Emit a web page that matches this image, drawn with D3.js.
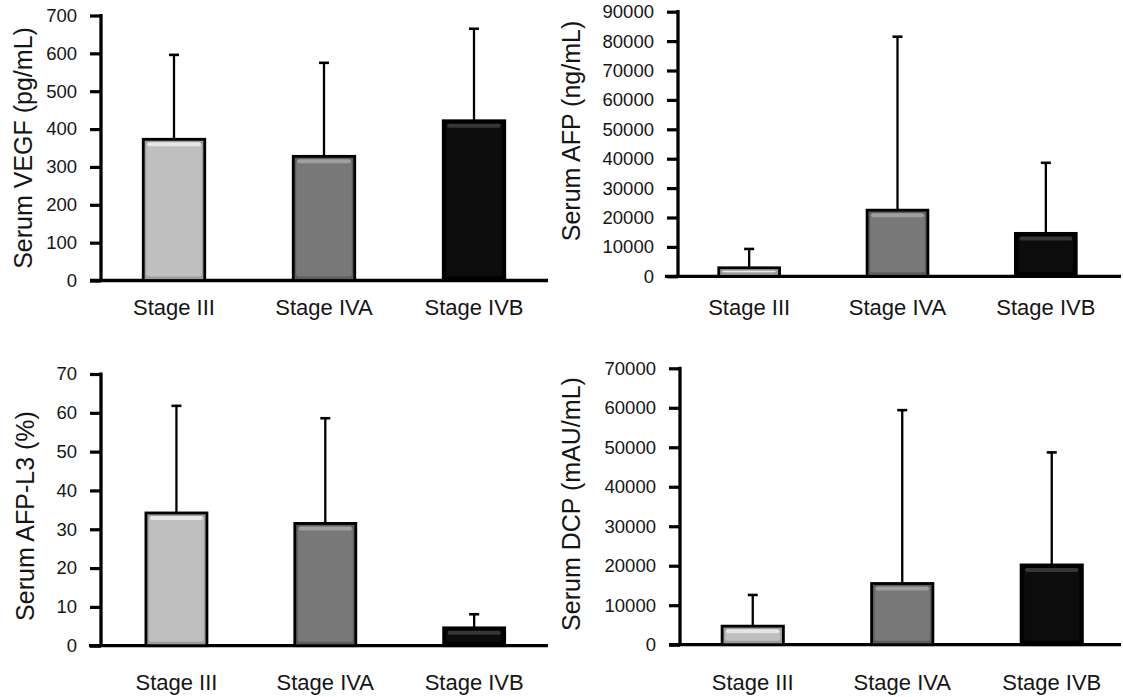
<!DOCTYPE html>
<html><head><meta charset="utf-8">
<script src="https://cdn.jsdelivr.net/npm/d3@7"></script>
<style>html,body{margin:0;padding:0;background:#fff;}svg{display:block;}</style>
</head><body>
<svg id="c" width="1123" height="697"></svg>
<script>
// ---- data ----
const categories = ["Stage III", "Stage IVA", "Stage IVB"];

const vegfMean = [373, 328, 422];
const vegfUpper = [596, 575, 665];
const vegfTicks = [0, 100, 200, 300, 400, 500, 600, 700];

const afpMean = [2900, 22500, 14600];
const afpUpper = [9300, 81500, 38600];
const afpTicks = [0, 10000, 20000, 30000, 40000, 50000, 60000, 70000, 80000, 90000];

const l3Mean = [34.2, 31.5, 4.6];
const l3Upper = [61.8, 58.6, 8.1];
const l3Ticks = [0, 10, 20, 30, 40, 50, 60, 70];

const dcpMean = [4700, 15500, 20200];
const dcpUpper = [12600, 59400, 48700];
const dcpTicks = [0, 10000, 20000, 30000, 40000, 50000, 60000, 70000];

const titles = ["Serum VEGF  (pg/mL)", "Serum AFP  (ng/mL)", "Serum AFP-L3 (%)", "Serum DCP  (mAU/mL)"];

// ---- styles ----
const barStyles = [
  {main:"#bfbfbf", edge:"#9c9c9c", hi:"#ececec"},
  {main:"#787878", edge:"#5c5c5c", hi:"#a6a6a6"},
  {main:"#0c0c0c", edge:"#000000", hi:"#3e3e3e"}
];
const FONT = "'Liberation Sans', Arial, Helvetica, sans-serif";

const svg = d3.select("#c");

const panels = [
  {mean:vegfMean, upper:vegfUpper, ticks:vegfTicks, title:titles[0],
   axisX:101, y0:280.5, yTop:15.5, xStart:90, xEnd:548, band:[99,549], titleX:23, titleY:148, labelY:315},
  {mean:afpMean, upper:afpUpper, ticks:afpTicks, title:titles[1],
   axisX:678, y0:276.3, yTop:11.7, xStart:665, xEnd:1121, band:[675,1120], titleX:571, titleY:131, labelY:315},
  {mean:l3Mean, upper:l3Upper, ticks:l3Ticks, title:titles[2],
   axisX:101, y0:645.7, yTop:374, xStart:89, xEnd:548, band:[102,548.6], titleX:25, titleY:516, labelY:690},
  {mean:dcpMean, upper:dcpUpper, ticks:dcpTicks, title:titles[3],
   axisX:680, y0:644.7, yTop:368.3, xStart:669, xEnd:1121, band:[678,1126.5], titleX:571, titleY:504, labelY:690}
];

panels.forEach(p => {
  const g = svg.append("g");
  const maxV = p.ticks[p.ticks.length - 1];
  const y = d3.scaleLinear().domain([0, maxV]).range([p.y0, p.yTop]);
  const x = d3.scaleBand().domain(categories).range(p.band).paddingInner(0.59).paddingOuter(0.295);

  // y axis
  const ya = g.append("g").attr("transform", `translate(${p.axisX},0)`)
    .call(d3.axisLeft(y).tickValues(p.ticks).tickSize(11).tickSizeOuter(0).tickPadding(13).tickFormat(d3.format("d")));
  ya.select(".domain").attr("stroke", "#000").attr("stroke-width", 3.3).attr("d", `M0,${p.yTop - 1.6}V${p.y0}`);
  ya.selectAll(".tick line").attr("stroke", "#000").attr("stroke-width", 3.2);
  ya.selectAll(".tick text").attr("font-family", FONT).attr("font-size", 18.5).attr("fill", "#151515");

  // x axis baseline
  g.append("line").attr("x1", p.xStart).attr("x2", p.xEnd).attr("y1", p.y0).attr("y2", p.y0)
    .attr("stroke", "#000").attr("stroke-width", 3.3);

  // error bars
  const eg = g.append("g");
  categories.forEach((c, i) => {
    const cx = x(c) + x.bandwidth() / 2;
    eg.append("line").attr("x1", cx).attr("x2", cx).attr("y1", y(p.mean[i])).attr("y2", y(p.upper[i]))
      .attr("stroke", "#000").attr("stroke-width", 2.3);
    eg.append("line").attr("x1", cx - 5).attr("x2", cx + 5).attr("y1", y(p.upper[i])).attr("y2", y(p.upper[i]))
      .attr("stroke", "#000").attr("stroke-width", 2.6);
  });

  // bars with bevel
  categories.forEach((c, i) => {
    const s = barStyles[i];
    const bx = x(c), bw = x.bandwidth();
    const by = y(p.mean[i]), bh = p.y0 - by;
    const bg = g.append("g");
    bg.append("rect").attr("x", bx).attr("y", by).attr("width", bw).attr("height", bh)
      .attr("fill", s.edge);
    const inset = 3;
    if (bh > 2 * inset + 1) {
      bg.append("rect").attr("x", bx + inset).attr("y", by + inset)
        .attr("width", bw - 2 * inset).attr("height", bh - 2 * inset - 1)
        .attr("rx", 2.5).attr("fill", s.main);
      bg.append("rect").attr("x", bx + inset + 1).attr("y", by + inset)
        .attr("width", bw - 2 * inset - 2).attr("height", Math.min(4, bh - 2 * inset - 1))
        .attr("rx", 2).attr("fill", s.hi).attr("opacity", 0.85);
    } else {
      bg.append("rect").attr("x", bx + 2).attr("y", by + 1.5)
        .attr("width", bw - 4).attr("height", Math.max(0, bh - 3)).attr("fill", s.hi);
    }
    bg.append("rect").attr("x", bx).attr("y", by).attr("width", bw).attr("height", bh)
      .attr("fill", "none").attr("stroke", "#000").attr("stroke-width", 2.8);
  });

  // x labels
  g.selectAll(".xl").data(categories).enter().append("text")
    .attr("x", d => x(d) + x.bandwidth() / 2).attr("y", p.labelY)
    .attr("text-anchor", "middle").attr("font-family", FONT).attr("font-size", 22).attr("fill", "#151515")
    .text(d => d);

  // y title
  g.append("text").attr("transform", `translate(${p.titleX},${p.titleY}) rotate(-90)`)
    .attr("text-anchor", "middle").attr("dominant-baseline", "central")
    .attr("font-family", FONT).attr("font-size", 25).attr("fill", "#151515").text(p.title);
});
</script>
</body></html>
